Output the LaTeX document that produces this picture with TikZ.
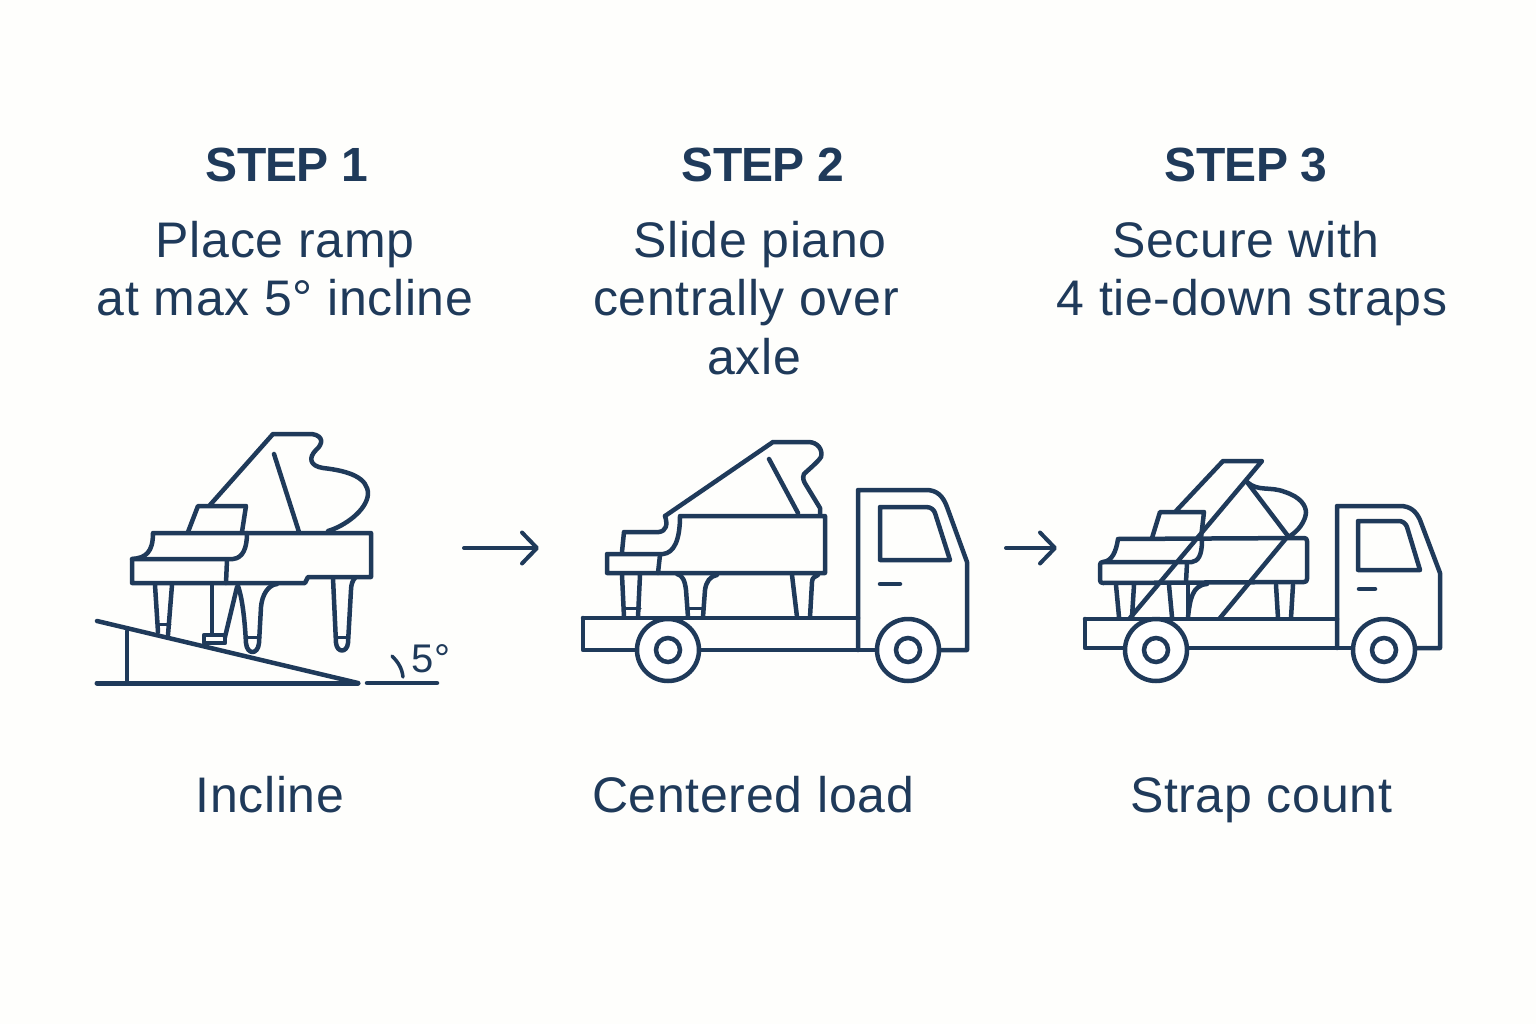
\documentclass[tikz,border=0pt]{standalone}
\usepackage{fontspec}
\setmainfont{Liberation Sans}
\usetikzlibrary{arrows.meta}
\definecolor{ink}{HTML}{1F3A5A}
\definecolor{paper}{HTML}{FEFEFC}
\tikzset{
  ln/.style={draw=ink,line width=4.5pt,line cap=round,line join=round},
  thin/.style={draw=ink,line width=3pt,line cap=round,line join=round},
  wheel/.style={draw=ink,line width=4.5pt,fill=white},
  head/.style={text=ink,font=\fontsize{48}{48}\selectfont\bfseries\addfontfeatures{LetterSpace=-1.4},inner sep=0pt,anchor=base},
  body/.style={text=ink,font=\fontsize{50}{50}\selectfont\addfontfeatures{LetterSpace=1.4},inner sep=0pt,anchor=base},
  flow/.style={ln,line width=4pt,-{Straight Barb[length=15pt,width=31pt,line width=4pt,round]}}
}
\begin{document}
\begin{tikzpicture}[x=1pt,y=-1pt]
\path[use as bounding box,fill=paper] (0,0) rectangle (1536,1024);
% texts
\node[head] (h1) at (287,182) {STEP 1};
\node[head] (h2) at (763,182) {STEP 2};
\node[head] (h3) at (1246,182) {STEP 3};
\node[body] (t1a) at (285,258) {Place ramp};
\node[body] (t1b) at (285,316) {at max 5° incline};
\node[body] (t2a) at (760,258) {Slide piano};
\node[body] (t2b) at (746,316) {centrally over};
\node[body] (t2c) at (754,374) {axle};
\node[body] (t3a) at (1246,258) {Secure with};
\node[body] (t3b) at (1252,316) {4 tie-down straps};
\node[body] (c1) at (270,812) {Incline};
\node[body] (c2) at (753,812) {Centered load};
\node[body] (c3) at (1261,812) {Strap count};
\node[text=ink,font=\fontsize{40}{40}\selectfont,inner sep=0pt,anchor=base] (deg) at (431,672) {5°};
% arrows
\coordinate (a1s) at (464,548); \coordinate (a1e) at (539,548);
\coordinate (a2s) at (1006,548); \coordinate (a2e) at (1057,548);
\draw[flow] (a1s) -- (a1e);
\draw[flow] (a2s) -- (a2e);
% ---- scene 1: piano on ramp
\draw[ln] (210,505) -- (273,434) -- (312,434) .. controls (324,436) and (323,444) .. (316,450) .. controls (308,458) and (310,466) .. (323,468) .. controls (350,471) and (368,478) .. (368,494) .. controls (367,510) and (345,526) .. (328,531);
\draw[ln] (274,454) -- (299,532);
\draw[ln] (188,532) -- (198,506) -- (246,506) -- (242,532);
\draw[ln] (153,533) -- (371,533) -- (371,577) -- (308,577) -- (305,583) -- (132,583) -- (132,559) .. controls (146,558) and (153,552) .. (153,533);
\draw[ln] (132,559) -- (233,559) .. controls (243,558) and (247,548) .. (247,533);
\draw[ln] (227,560) -- (226,583);
\draw[ln] (155,585) -- (158,632); \draw[ln] (172,585) -- (168,635);
\draw[thin] (158,624) -- (170,624);
\draw[ln] (212,585) -- (212,634);
\draw[ln] (237,587) -- (225,637);
\draw[ln] (204,635) -- (225,635) -- (225,643) -- (204,643) -- cycle;
\draw[ln] (238,586) .. controls (243,600) and (245,625) .. (246,643) .. controls (247,655) and (258,655) .. (259,643) -- (261,607) .. controls (262,595) and (268,585) .. (277,584);
\draw[thin] (246,637) -- (260,637);
\draw[ln] (333,578) -- (336,643) .. controls (337,653) and (347,653) .. (348,643) -- (351,590) .. controls (351,584) and (353,580) .. (355,578);
\draw[thin] (336,637) -- (348,637);
\draw[ln] (97,621) -- (358,683);
\draw[ln,line width=5pt] (97,683) -- (358,683);
\draw[ln] (127,631) -- (127,683);
\draw[ln] (367,683) -- (437,683);
\draw[ln,line width=3.5pt] (392,656) .. controls (398,662) and (402,668) .. (403,677);
% ---- scene 2: truck
\draw[ln] (665,516) -- (773,442) -- (808,442) .. controls (818,442) and (823,450) .. (821,457) .. controls (818,462) and (808,470) .. (804,474) .. controls (802,478) and (804,482) .. (806,485) -- (820,508) -- (820,514);
\draw[ln] (769,459) -- (798,513);
\draw[ln] (680,516) -- (825,516) -- (825,573) -- (607,573) -- (607,554) -- (663,554) .. controls (674,553) and (680,540) .. (680,516);
\draw[ln] (622,552) -- (624,532) -- (659,532) .. controls (666,531) and (668,525) .. (665,516);
\draw[ln] (660,555) -- (658,573);
\draw[ln] (622,575) -- (624,617); \draw[ln] (640,575) -- (638,617);
\draw[thin] (625,608) -- (640,608);
\draw[ln] (677,574) .. controls (683,575) and (685,582) .. (686,590) -- (688,617);
\draw[ln] (703,617) -- (705,590) .. controls (706,582) and (710,576) .. (717,575);
\draw[thin] (689,608) -- (703,608);
\draw[ln] (792,575) -- (797,617); \draw[ln] (810,617) -- (812,582) .. controls (812,578) and (815,576) .. (818,575);
\draw[ln] (583,618) -- (858,618);
\draw[ln] (637,650) -- (583,650) -- (583,618);
\draw[ln] (698,650) -- (877,650);
\draw[ln] (940,650) -- (967,650) -- (967,562) -- (947,507) .. controls (943,496) and (937,490) .. (926,490) -- (858,490) -- (858,650);
\draw[ln] (880,507) -- (926,507) .. controls (931,507) and (934,510) .. (935,513) -- (950,560) -- (880,560) -- cycle;
\draw[ln] (880,584) -- (900,584);
\node[wheel,circle,minimum size=62pt,inner sep=0pt] (w2a) at (668,650) {};
\node[wheel,circle,minimum size=24pt,inner sep=0pt] (w2ai) at (668,650) {};
\node[wheel,circle,minimum size=62pt,inner sep=0pt] (w2b) at (908,650) {};
\node[wheel,circle,minimum size=24pt,inner sep=0pt] (w2bi) at (908,650) {};
% ---- scene 3: strapped
\draw[ln] (1176,511) -- (1223,461) -- (1262,461) -- (1130,618);
\draw[ln] (1247,482) -- (1288,536) -- (1220,618);
\draw[ln] (1247,482) .. controls (1258,492) and (1270,486) .. (1285,492) .. controls (1300,497) and (1306,505) .. (1306,513) .. controls (1305,522) and (1298,531) .. (1290,536);
\draw[ln] (1152,538) -- (1160,512) -- (1204,512) -- (1201,538);
\draw[ln] (1118,539) -- (1304,538) .. controls (1306,538) and (1307,539) .. (1307,541) -- (1307,579) .. controls (1307,581) and (1306,582) .. (1304,582) -- (1103,583) .. controls (1101,583) and (1100,582) .. (1100,580) -- (1100,565) .. controls (1100,563) and (1101,562) .. (1103,562) .. controls (1112,561) and (1116,552) .. (1118,539);
\draw[ln] (1103,562) -- (1192,562) .. controls (1198,561) and (1202,556) .. (1202,540);
\draw[ln] (1187,563) -- (1186,582);
\draw[ln] (1116,585) -- (1119,617); \draw[ln] (1134,585) -- (1132,617);
\draw[ln] (1169,585) -- (1172,617);
\draw[ln] (1188,585) -- (1188,617);
\draw[ln] (1188,617) .. controls (1190,600) and (1192,585) .. (1207,584);
\draw[ln] (1276,585) -- (1278,618); \draw[ln] (1293,585) -- (1291,618);
\draw[ln] (1085,619) -- (1337,619);
\draw[ln] (1125,648) -- (1085,648) -- (1085,619);
\draw[ln] (1188,648) -- (1353,648);
\draw[ln] (1415,648) -- (1440,648) -- (1440,573) -- (1420,520) .. controls (1416,511) and (1410,506) .. (1400,506) -- (1337,506) -- (1337,648);
\draw[ln] (1358,521) -- (1399,521) .. controls (1403,521) and (1406,524) .. (1407,527) -- (1420,570) -- (1358,570) -- cycle;
\draw[ln] (1359,589) -- (1375,589);
\node[wheel,circle,minimum size=62pt,inner sep=0pt] (w3a) at (1156,650) {};
\node[wheel,circle,minimum size=24pt,inner sep=0pt] (w3ai) at (1156,650) {};
\node[wheel,circle,minimum size=62pt,inner sep=0pt] (w3b) at (1384,650) {};
\node[wheel,circle,minimum size=24pt,inner sep=0pt] (w3bi) at (1384,650) {};
\end{tikzpicture}
\end{document}
